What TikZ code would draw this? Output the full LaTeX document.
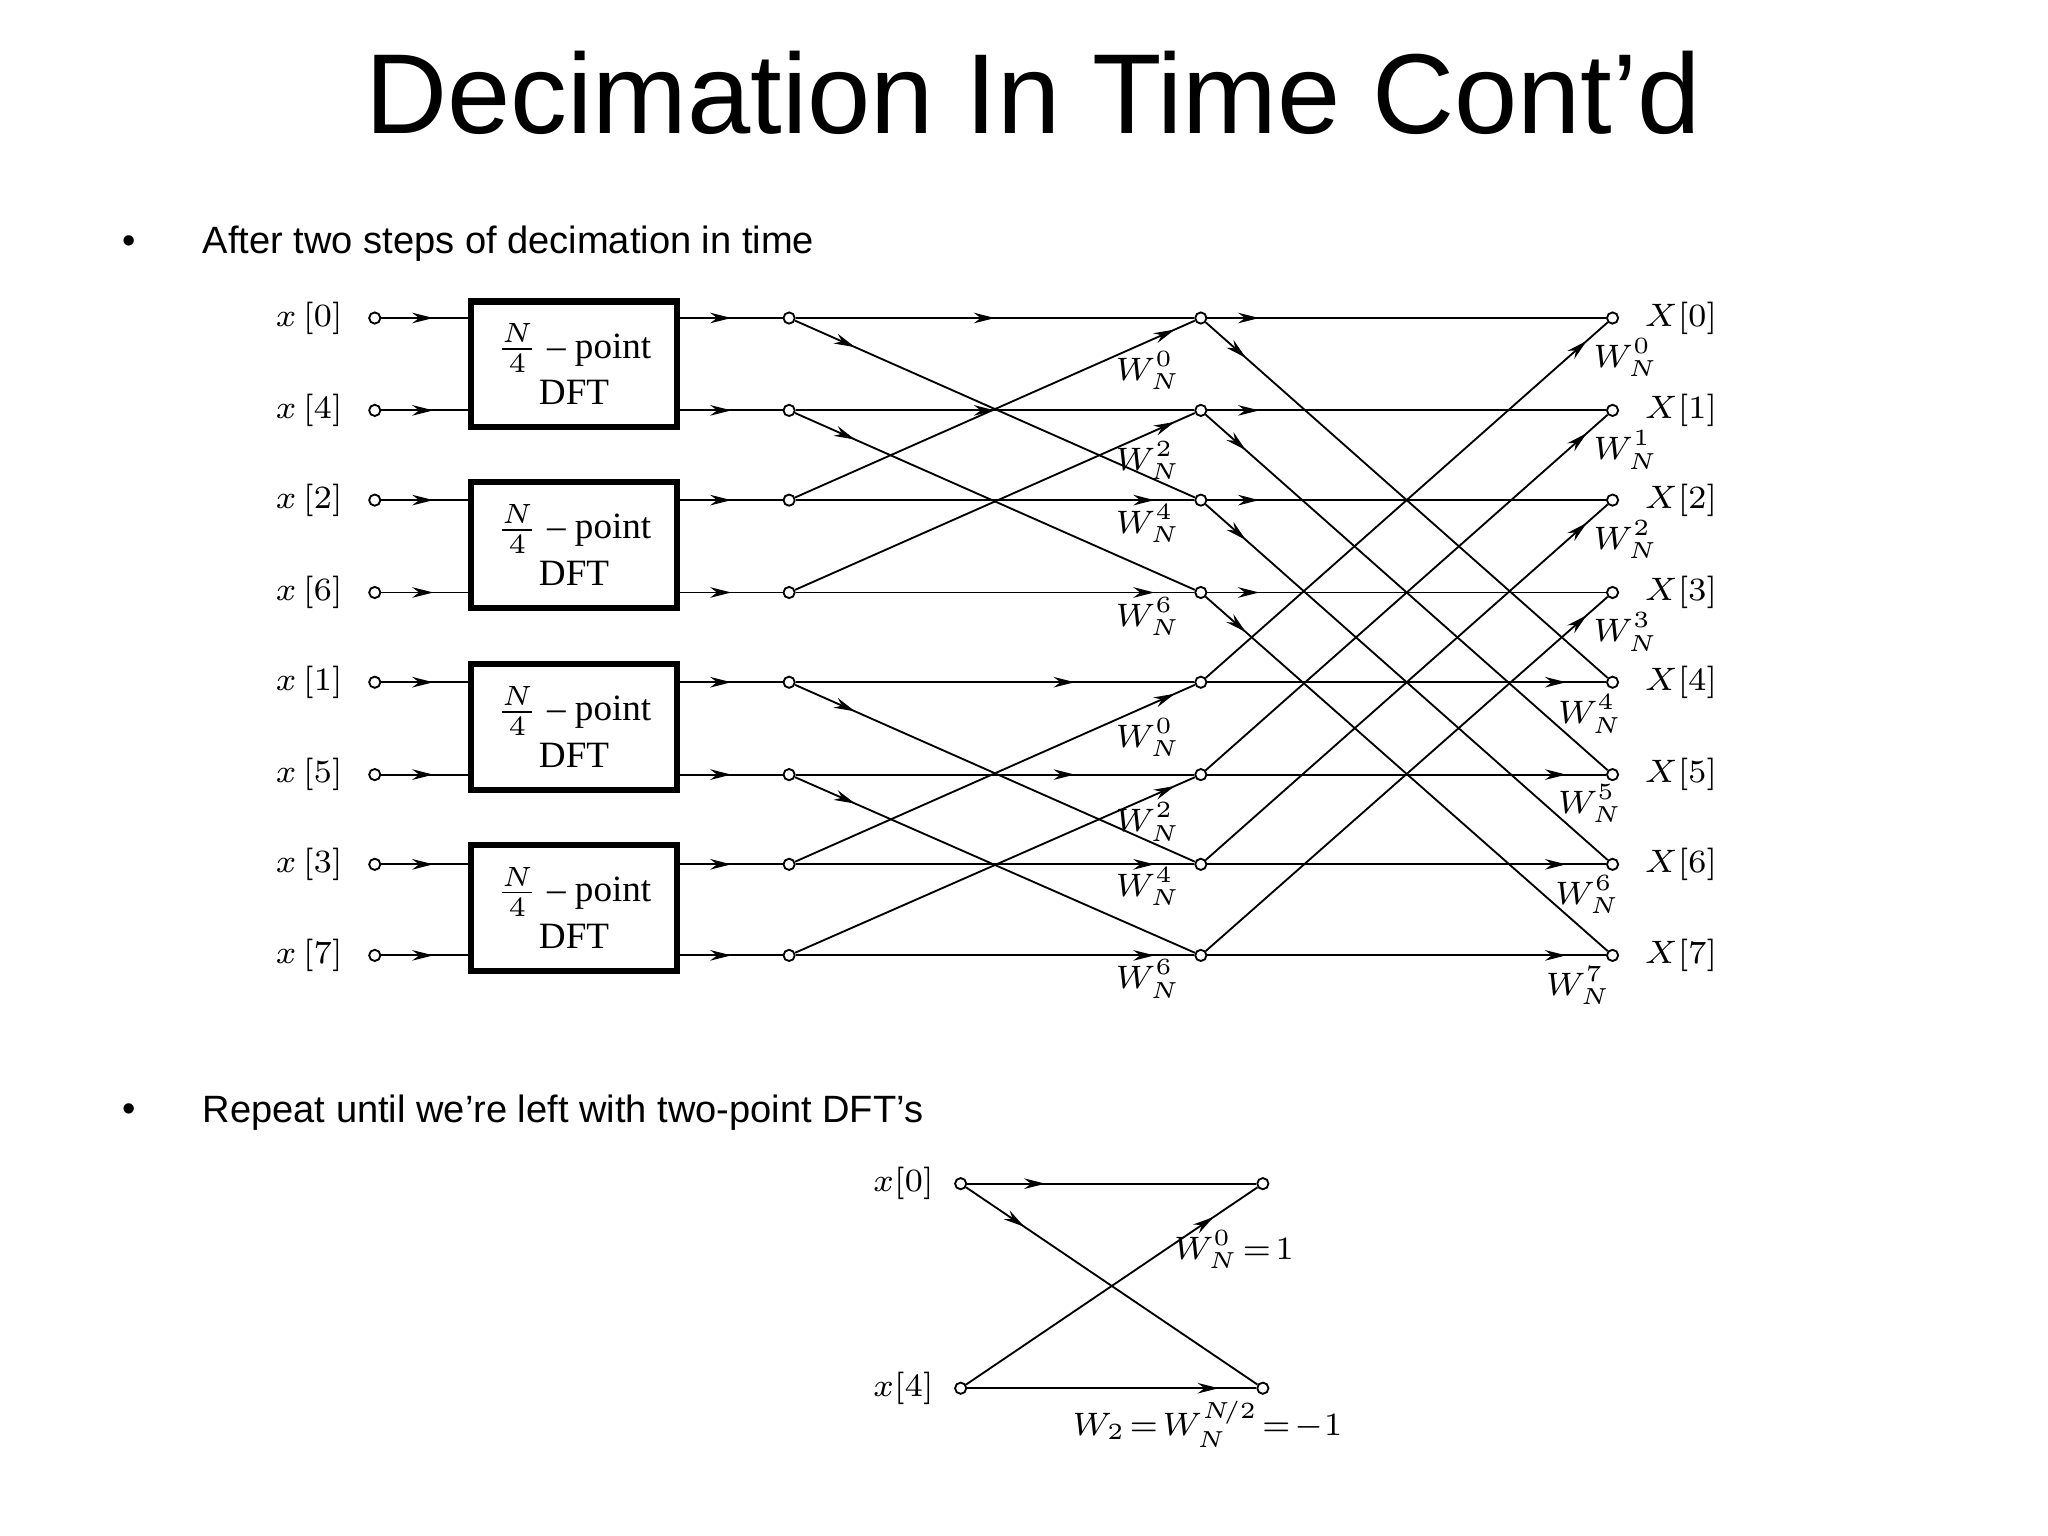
\documentclass[tikz,border=0pt]{standalone}
\usepackage{fontspec}
\setmainfont{Liberation Serif}
\newfontfamily\arialf{Liberation Sans}
\usetikzlibrary{arrows.meta,decorations.markings}
\begin{document}
\begin{tikzpicture}[x=0.01cm,y=-0.01cm,
  dot/.style={circle,draw,inner sep=0pt,minimum size=0.085cm,line width=0.4pt},
  wire/.style={line width=0.4pt},
  arr/.style={postaction={decorate},decoration={markings,mark=at position #1 with {\arrow{Stealth[length=0.16cm,width=0.08cm]}}}},
  dftbox/.style={draw,line width=1.3pt,minimum width=1.56cm,minimum height=0.95cm,align=center,font=\fontsize{8}{9}\selectfont},
  lab/.style={font=\fontsize{7.5}{9}\selectfont},
  wlab/.style={font=\fontsize{7}{8}\selectfont,inner sep=0pt}]
\useasboundingbox (0,0) rectangle (1552,1164);
\node[font=\arialf\fontsize{24.5}{26}\selectfont] (title) at (783,70) {Decimation In Time Cont’d};
\node[font=\arialf\fontsize{8.2}{10}\selectfont] (b1) at (98,185) {•};
\node[font=\arialf\fontsize{8.2}{10}\selectfont,anchor=west,inner sep=0pt] (t1) at (153,185) {After two steps of decimation in time};
\node[font=\arialf\fontsize{8.2}{10}\selectfont] (b2) at (98,843) {•};
\node[font=\arialf\fontsize{8.2}{10}\selectfont,anchor=west,inner sep=0pt] (t2) at (153,843) {Repeat until we’re left with two-point DFT’s};
% rows
\foreach \i/\y/\xl in {0/241/0,1/311/4,2/379/2,3/449/6,4/517/1,5/587/5,6/655/3,7/724/7}{
  \node[dot] (in\i) at (284,\y) {};
  \node[lab,anchor=east] (xl\i) at (272,\y) {$x\,[\xl]$};
  \node[dot] (s\i) at (598,\y) {};
  \node[dot] (m\i) at (910,\y) {};
  \node[dot] (o\i) at (1222,\y) {};
  \node[lab,anchor=west] (ol\i) at (1234,\y) {$X[\i]$};
}
\foreach \g/\y in {0/276,1/413,2/551,3/688}{
  \node[dftbox] (box\g) at (435,\y) {$\frac{N}{4}$ -- point\\[1pt] DFT};
}
\foreach \i/\b in {0/0,1/0,2/1,3/1,4/2,5/2,6/3,7/3}{
  \draw[wire,arr=0.6] (in\i) -- (in\i -| box\b.west);
  \draw[wire,arr=0.5] (in\i -| box\b.east) -- (s\i);
}
% stage 1
\foreach \i/\p in {0/0.5,1/0.5,2/0.9,3/0.9,4/0.7,5/0.7,6/0.9,7/0.9}{
  \draw[wire,arr=\p] (s\i) -- (m\i);
}
\foreach \a/\b in {0/2,1/3,4/6,5/7}{
  \draw[wire,arr=0.15] (s\a) -- (m\b);
  \draw[wire,arr=0.95] (s\b) -- (m\a);
}
% stage 2
\foreach \i/\p in {0/0.13,1/0.13,2/0.13,3/0.13,4/0.9,5/0.9,6/0.9,7/0.9}{
  \draw[wire,arr=\p] (m\i) -- (o\i);
}
\foreach \a in {0,1,2,3}{
  \pgfmathtruncatemacro{\b}{\a+4}
  \draw[wire,arr=0.1] (m\a) -- (o\b);
  \draw[wire,arr=0.95] (m\b) -- (o\a);
}
% twiddle labels
\foreach \n/\y/\k in {a/281/0,b/349/2,c/397/4,d/467/6,e/559/0,f/623/2,g/672/4,h/742/6}{
  \node[wlab] (wm\n) at (870,\y) {$W_N^{\k}$};
}
\foreach \n/\y/\k in {a/271/0,b/341/1,c/409/2,d/479/3}{
  \node[wlab] (wo\n) at (1232,\y) {$W_N^{\k}$};
}
\foreach \n/\y/\k/\xx in {e/541/4/1205,f/609/5/1205,g/678/6/1203,h/747/7/1196}{
  \node[wlab] (wo\n) at (\xx,\y) {$W_N^{\k}$};
}
% small butterfly
\node[dot] (a0) at (728,897) {};
\node[dot] (a1) at (728,1052) {};
\node[dot] (b0) at (957,897) {};
\node[dot] (b1) at (957,1052) {};
\node[lab,anchor=east] (al0) at (720,897) {$x[0]$};
\node[lab,anchor=east] (al1) at (720,1052) {$x[4]$};
\draw[wire,arr=0.27] (a0) -- (b0);
\draw[wire,arr=0.2] (a0) -- (b1);
\draw[wire,arr=0.85] (a1) -- (b0);
\draw[wire,arr=0.87] (a1) -- (b1);
\node[wlab] (wl0) at (935,947) {$W_N^0\!=\!1$};
\node[wlab] (wl1) at (915,1079) {$W_2\!=\!W_N^{N\!/2}\!=\!-1$};
\end{tikzpicture}
\end{document}
